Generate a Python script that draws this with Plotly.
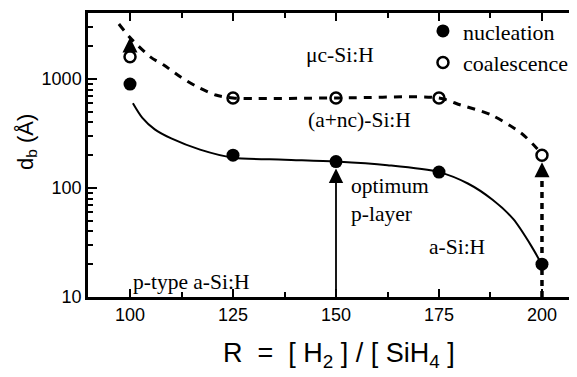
import numpy as np
import plotly.graph_objects as go

# ---- data ----
R_points = [100, 125, 150, 175, 200]
nucleation = [900, 200, 175, 140, 20]
coalescence = [1600, 670, 670, 670, 200]

# guide curves
nuc_curve_x = [100.7, 103.0, 106.0, 110.0, 117.0, 125.0, 137.5, 150.0, 162.5, 175.0, 182.0, 188.0, 193.0, 197.5, 200.0]
nuc_curve_y = [600, 440, 345, 285, 225, 190, 182, 175, 162, 140, 110, 78, 52, 29, 19.7]
coal_curve_x = [97.3, 100.0, 105.0, 108.2, 112.3, 116.4, 120.8, 125.0, 150.0, 175.0, 180.3, 187.6, 194.9, 198.0, 200.0]
coal_curve_y = [3200, 2400, 1590, 1343, 1043, 845, 713, 670, 670, 670, 577, 470, 320, 248, 205]
arrow_tip_100 = 2400

y_major = [10, 100, 1000]
y_minor = [20, 30, 40, 50, 60, 70, 80, 90, 200, 300, 400, 500, 600, 700, 800, 900, 2000, 3000]

x_range = [89.8, 208.5]
y_range_log = [1, 3.606]

serif = "Liberation Serif"
sans = "Liberation Sans"
L = np.log10

fig = go.Figure()

fig.add_trace(go.Scatter(x=coal_curve_x, y=coal_curve_y, mode="lines",
                         line=dict(color="black", width=3, dash="8px,7px", shape="spline", smoothing=0.8),
                         showlegend=False, hoverinfo="skip"))
fig.add_trace(go.Scatter(x=nuc_curve_x, y=nuc_curve_y, mode="lines",
                         line=dict(color="black", width=2, shape="spline", smoothing=0.8),
                         showlegend=False, hoverinfo="skip"))

# dashed vertical arrow at R=200 (from axis up to coalescence point)
fig.add_trace(go.Scatter(x=[R_points[4], R_points[4]], y=[10, coalescence[4] * 0.8], mode="lines",
                         line=dict(color="black", width=3.5, dash="6px,5px"),
                         showlegend=False, hoverinfo="skip"))

fig.add_trace(go.Scatter(x=R_points, y=nucleation, mode="markers", name="nucleation",
                         marker=dict(symbol="circle", size=13, color="black")))
fig.add_trace(go.Scatter(x=R_points, y=coalescence, mode="markers", name="coalescence",
                         marker=dict(symbol="circle-open", size=11, color="black",
                                     line=dict(width=2.5, color="black"))))
# invisible carrier for the faint right-hand axis
fig.add_trace(go.Scatter(x=[R_points[0]], y=[nucleation[0]], yaxis="y2", mode="markers",
                         marker=dict(opacity=0), showlegend=False, hoverinfo="skip"))

# arrows (log axis -> annotation coordinates in log10 units)
fig.add_annotation(x=R_points[2], y=L(nucleation[2]), ax=R_points[2], ay=L(10),
                   xref="x", yref="y", axref="x", ayref="y", showarrow=True,
                   arrowhead=2, arrowsize=1.6, arrowwidth=1.8, arrowcolor="black",
                   standoff=7, text="")
fig.add_annotation(x=R_points[4], y=L(coalescence[4]), ax=R_points[4], ay=L(coalescence[4] * 0.75),
                   xref="x", yref="y", axref="x", ayref="y", showarrow=True,
                   arrowhead=2, arrowsize=1.0, arrowwidth=3, arrowcolor="black",
                   standoff=7, text="")
fig.add_annotation(x=R_points[0], y=L(arrow_tip_100), ax=R_points[0], ay=L(coalescence[0]),
                   xref="x", yref="y", axref="x", ayref="y", showarrow=True,
                   arrowhead=2, arrowsize=1.0, arrowwidth=3, arrowcolor="black",
                   startstandoff=6, text="")

# region labels
labels = [
    ("μc-Si:H", 142.3, 1660),
    ("(a+nc)-Si:H", 142.8, 420),
    ("optimum<br>p-layer", 153.2, 78),
    ("a-Si:H", 172.0, 28.8),
    ("p-type a-Si:H", 100.2, 13.7),
]
for t, x, y in labels:
    fig.add_annotation(x=x, y=L(y), xref="x", yref="y", text=t, showarrow=False,
                       xanchor="left", align="left",
                       font=dict(family=serif, size=21.5, color="black"))

# axis titles
fig.add_annotation(x=-0.158, y=0.545, xref="paper", yref="paper", showarrow=False,
                   text="d<sub>b</sub> (Å)", textangle=-90,
                   font=dict(family=sans, size=22, color="black"))
fig.add_annotation(x=0.513, y=-0.27, xref="paper", yref="paper", showarrow=False,
                   text="R &nbsp;= &nbsp;[ H<sub>2</sub> ] / [ SiH<sub>4</sub> ]",
                   font=dict(family=sans, size=27, color="black"))

axis_common = dict(showline=True, linecolor="black", linewidth=2.5, ticks="inside",
                   tickcolor="black", tickwidth=2, showgrid=False, zeroline=False,
                   automargin=False,
                   tickfont=dict(family=sans, size=18, color="black"))

fig.update_layout(
    xaxis=dict(range=x_range, tick0=100, dtick=25, ticklen=8, mirror="ticks",
               minor=dict(ticks="inside", dtick=12.5, tick0=100, ticklen=5, tickwidth=2,
                          tickcolor="black", showgrid=False),
               **axis_common),
    yaxis=dict(type="log", range=y_range_log, tickvals=y_major,
               ticktext=[str(v) for v in y_major], ticklen=9,
               minor=dict(ticks="inside", tickvals=y_minor, ticklen=5, tickwidth=2,
                          tickcolor="black", showgrid=False),
               **axis_common),
    yaxis2=dict(type="log", range=y_range_log, overlaying="y", side="right", anchor="free",
                position=0.996, showline=True, linecolor="#d8d8d8", linewidth=1,
                ticks="outside", ticklen=4, tickcolor="#444", tickwidth=1.5,
                tickvals=y_major, showticklabels=False, showgrid=False, zeroline=False,
                automargin=False),
    width=577, height=377,
    margin=dict(l=80, r=8, t=5, b=88, autoexpand=False),
    paper_bgcolor="white", plot_bgcolor="white",
    showlegend=True,
    legend=dict(x=0.685, y=1.01, xanchor="left", yanchor="top",
                bgcolor="rgba(0,0,0,0)", borderwidth=0,
                font=dict(family=serif, size=22, color="black"),
                tracegroupgap=0, itemwidth=30),
)

fig.write_html("out.html")
